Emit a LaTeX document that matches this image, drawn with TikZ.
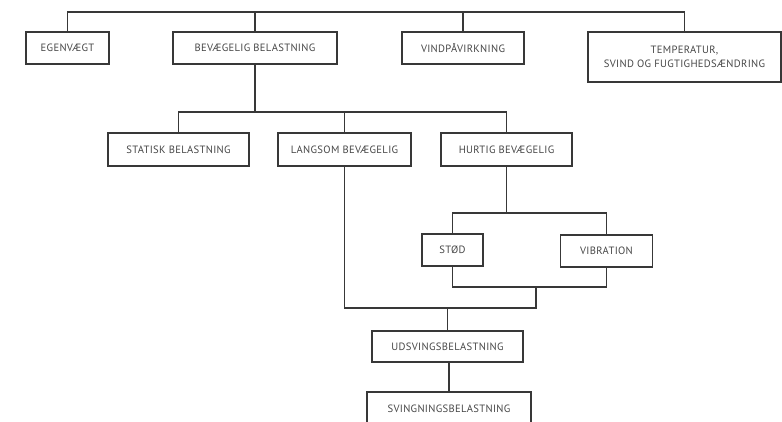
\documentclass[tikz,border=0pt]{standalone}
\usepackage{fontspec}
\setmainfont{PT Sans}[LetterSpace=3]
\begin{document}
\begin{tikzpicture}[x=1pt,y=-1pt,
  link/.style={draw=black!78, line width=1.3pt},
  box/.style={draw=black!78, line width=1.3pt, fill=white, inner sep=0pt,
    text=black!72, font=\fontsize{10.6}{14}\selectfont, align=center},
]
\useasboundingbox (0,0) rectangle (782,421);

% load cases
\node[box, minimum width=83pt,  minimum height=32pt] (egen) at (67.5,48) {EGENVÆGT};
\node[box, minimum width=164pt, minimum height=32pt] (bev)  at (255,48) {BEVÆGELIG BELASTNING};
\node[box, minimum width=122pt, minimum height=32pt] (vind) at (463,48) {VINDPÅVIRKNING};
\node[box, minimum width=193pt, minimum height=50pt] (temp) at (684.5,57) {TEMPERATUR,\\SVIND OG FUGTIGHEDSÆNDRING};

% moving loads
\node[box, minimum width=141pt, minimum height=33pt] (stat) at (178.5,149.5) {STATISK BELASTNING};
\node[box, minimum width=133pt, minimum height=33pt] (lang) at (344.5,149.5) {LANGSOM BEVÆGELIG};
\node[box, minimum width=131pt, minimum height=33pt] (hurt) at (506.5,149.5) {HURTIG BEVÆGELIG};

% fast moving loads
\node[box, minimum width=61pt, minimum height=32pt] (stod) at (452.5,250) {STØD};
\node[box, minimum width=92pt, minimum height=32pt] (vib)  at (606.5,251) {VIBRATION};

% resulting loads
\node[box, minimum width=151pt, minimum height=31pt] (uds)   at (447.5,346.5) {UDSVINGSBELASTNING};
\node[box, minimum width=164pt, minimum height=34pt] (sving) at (449,409) {SVINGNINGSBELASTNING};

% bus bars
\coordinate (topbar) at (0,12);
\coordinate (midbar) at (0,112);
\coordinate (hbar)   at (0,213);
\coordinate (lbar)   at (0,287);
\coordinate (jbar)   at (0,308);
\coordinate (join)   at (536,287);

\draw[link] (egen.north) |- (temp.north |- topbar) -- (temp.north);
\draw[link] (bev.north) -- (bev.north |- topbar);
\draw[link] (vind.north) -- (vind.north |- topbar);

\draw[link] (bev.south) -- (bev.south |- midbar);
\draw[link] (stat.north) |- (hurt.north |- midbar) -- (hurt.north);
\draw[link] (lang.north) -- (lang.north |- midbar);

\draw[link] (hurt.south) -- (hurt.south |- hbar);
\draw[link] (stod.north) |- (vib.north |- hbar) -- (vib.north);
\draw[link] (stod.south) |- (vib.south |- lbar) -- (vib.south);

\draw[link] (join) -- (join |- jbar) -| (lang.south);
\draw[link] (uds.north) -- (uds.north |- jbar);
\draw[link] (uds.south) -- (uds.south -| sving.north) -- (sving.north);
\end{tikzpicture}
\end{document}
